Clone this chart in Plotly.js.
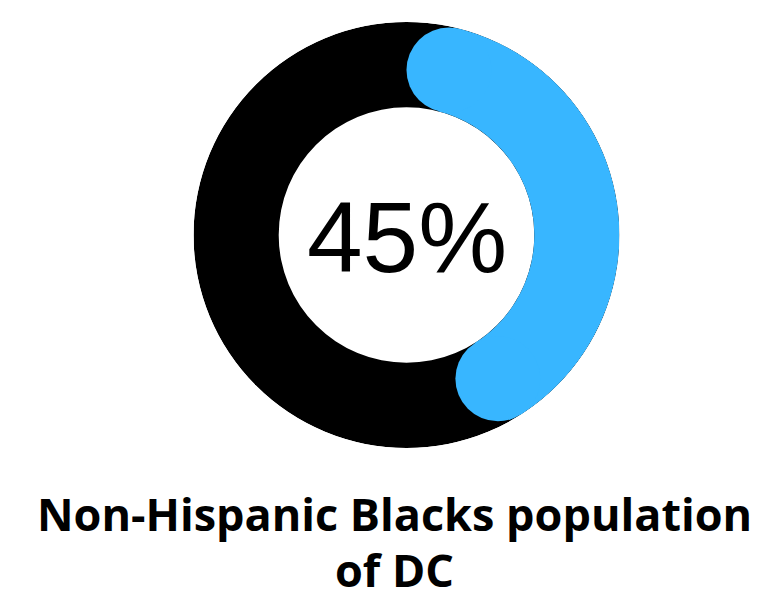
<!DOCTYPE html>
<html><head><meta charset="utf-8">
<script src="https://cdn.plot.ly/plotly-3.0.1.min.js"></script>
<style>html,body{margin:0;padding:0;background:#fff}#c{width:762px;height:601px}</style>
</head><body><div id="c"></div>
<script>
const categories = ["Non-Hispanic Blacks", "Others"];
const shares = [45, 55];
const colors = ["#38B6FF", "#000000"];
const centerLabel = "45%";
const titleLines = ["Non-Hispanic Blacks population", "of DC"];

const inner = 0.6, outer = 1.0, mid = (inner + outer) / 2;
const ringPx = 85; // ring thickness in px (style)
const capHalfDeg = Math.asin((ringPx / 2) / 170.5) * 180 / Math.PI;
const total = shares.reduce((a, b) => a + b, 0);
const spanDeg = shares[0] / total * 360;
const startCap = capHalfDeg;
const endCap = spanDeg - capHalfDeg;

const traces = [
  {type: "barpolar", r: [outer - inner], base: [inner], theta: [180], width: [360],
   marker: {color: colors[1], line: {width: 0}}, hoverinfo: "skip", name: categories[1]},
  {type: "barpolar", r: [outer - inner], base: [inner], theta: [(startCap + endCap) / 2], width: [endCap - startCap],
   marker: {color: colors[0], line: {width: 0}}, hoverinfo: "skip", name: categories[0]},
  {type: "scatterpolar", mode: "markers", r: [mid, mid], theta: [startCap, endCap],
   marker: {color: colors[0], size: ringPx, line: {width: 0}}, hoverinfo: "skip"}
];

const layout = {
  width: 762, height: 601, margin: {l: 0, r: 0, t: 0, b: 0},
  paper_bgcolor: "#fff", showlegend: false,
  polar: {
    domain: {x: [(406.5 - 213) / 762, (406.5 + 213) / 762], y: [(366 - 213) / 601, (366 + 213) / 601]},
    bgcolor: "rgba(0,0,0,0)",
    bargap: 0,
    radialaxis: {visible: false, range: [0, 1]},
    angularaxis: {visible: false, direction: "clockwise", rotation: 90}
  },
  annotations: [
    {text: centerLabel, x: 406.5 / 762, y: 1 - 237 / 601, xref: "paper", yref: "paper",
     xanchor: "center", yanchor: "middle", showarrow: false,
     font: {family: "Liberation Sans, Arial, sans-serif", size: 100, color: "#000"}},
    {text: "<b>" + titleLines[0] + "</b>", x: 394 / 762, y: 1 - 513 / 601, xref: "paper", yref: "paper",
     xanchor: "center", yanchor: "middle", showarrow: false,
     font: {family: "Open Sans, sans-serif", size: 45, color: "#000"}},
    {text: "<b>" + titleLines[1] + "</b>", x: 394 / 762, y: 0, xref: "paper", yref: "paper",
     xanchor: "center", yanchor: "bottom", showarrow: false, borderpad: 0,
     font: {family: "Open Sans, sans-serif", size: 45, color: "#000"}}
  ]
};
Plotly.newPlot("c", traces, layout, {displayModeBar: false, staticPlot: true});
</script></body></html>
